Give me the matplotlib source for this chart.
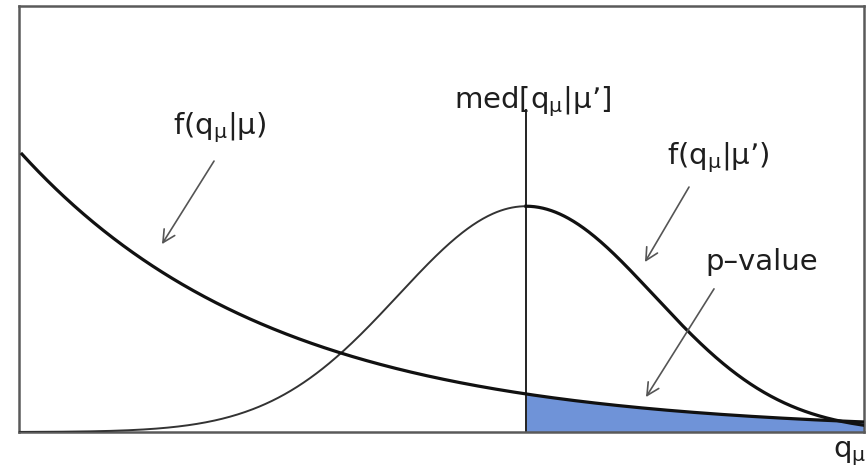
import numpy as np
import matplotlib
matplotlib.use("Agg")
import matplotlib.pyplot as plt

plt.rcParams["font.family"] = ["DejaVu Sans"]
plt.rcParams["mathtext.default"] = "regular"
plt.rcParams["mathtext.fontset"] = "dejavusans"

# Test statistic range shown on the horizontal axis
q_range = [0.0, 10.0]
q_start_null = 0.035

# f(q|mu): falling density under the tested hypothesis
null_amp = 0.66
null_scale = 3.0

# f(q|mu'): bell-shaped density under the alternative
alt_mean = 6.0
alt_sigma = 1.51
alt_peak = 0.53

# Median of f(q|mu') and the top of its marker line
q_median = 6.0
median_line_top = 0.756

fill_color = "#6F93D8"
frame_color = "#5a5a5a"
arrow_color = "#555555"


def f_null(q):
    return null_amp * np.exp(-q / null_scale)


def f_alt(q):
    return alt_peak * np.exp(-0.5 * ((q - alt_mean) / alt_sigma) ** 2)


fig = plt.figure(figsize=(8.67, 4.70), dpi=100)
ax = fig.add_axes([19 / 867, 38 / 470, 845 / 867, 426 / 470])
ax.set_xlim(*q_range)
ax.set_ylim(0, 1)
ax.set_xticks([])
ax.set_yticks([])
for sp in ax.spines.values():
    sp.set_color(frame_color)
    sp.set_linewidth(1.8)

q_null = np.linspace(q_start_null, q_range[1], 600)
q_left = np.linspace(q_range[0], q_median, 400)
q_right = np.linspace(q_median, q_range[1], 400)

# p-value region: tail of f(q|mu) beyond the median of f(q|mu')
ax.fill_between(q_right, 0, f_null(q_right), color=fill_color, lw=0, zorder=1)

ax.plot(q_left, f_alt(q_left), color="#333333", lw=1.4, zorder=3)
ax.plot(q_right, f_alt(q_right), color="#111111", lw=2.3, zorder=3)
ax.plot(q_null, f_null(q_null), color="#111111", lw=2.3, zorder=3)

ax.plot([q_median, q_median], [0, median_line_top], color="#222222", lw=1.4, zorder=2)

arrow_props = dict(arrowstyle="->,head_length=0.55,head_width=0.28",
                   color=arrow_color, lw=1.2, mutation_scale=16,
                   shrinkA=0, shrinkB=0)
ax.annotate("", xy=(1.692, 0.441), xytext=(2.308, 0.636), arrowprops=arrow_props)
ax.annotate("", xy=(7.408, 0.399), xytext=(7.929, 0.575), arrowprops=arrow_props)
ax.annotate("", xy=(7.420, 0.082), xytext=(8.225, 0.336), arrowprops=arrow_props)

fs = 21
tc = "#1e1e1e"
ax.text(2.379, 0.714, r"f(q$_{\mu}$|μ)", fontsize=fs, color=tc, ha="center", va="center")
ax.text(6.083, 0.775, r"med[q$_{\mu}$|μ’]", fontsize=fs, color=tc, ha="center", va="center")
ax.text(8.272, 0.643, r"f(q$_{\mu}$|μ’)", fontsize=fs, color=tc, ha="center", va="center")
ax.text(8.793, 0.399, "p–value", fontsize=fs, color=tc, ha="center", va="center")
ax.text(9.83, -0.05, r"q$_{\mu}$", fontsize=fs, color=tc, ha="center", va="center",
        clip_on=False)

fig.savefig("out.png", dpi=100)
